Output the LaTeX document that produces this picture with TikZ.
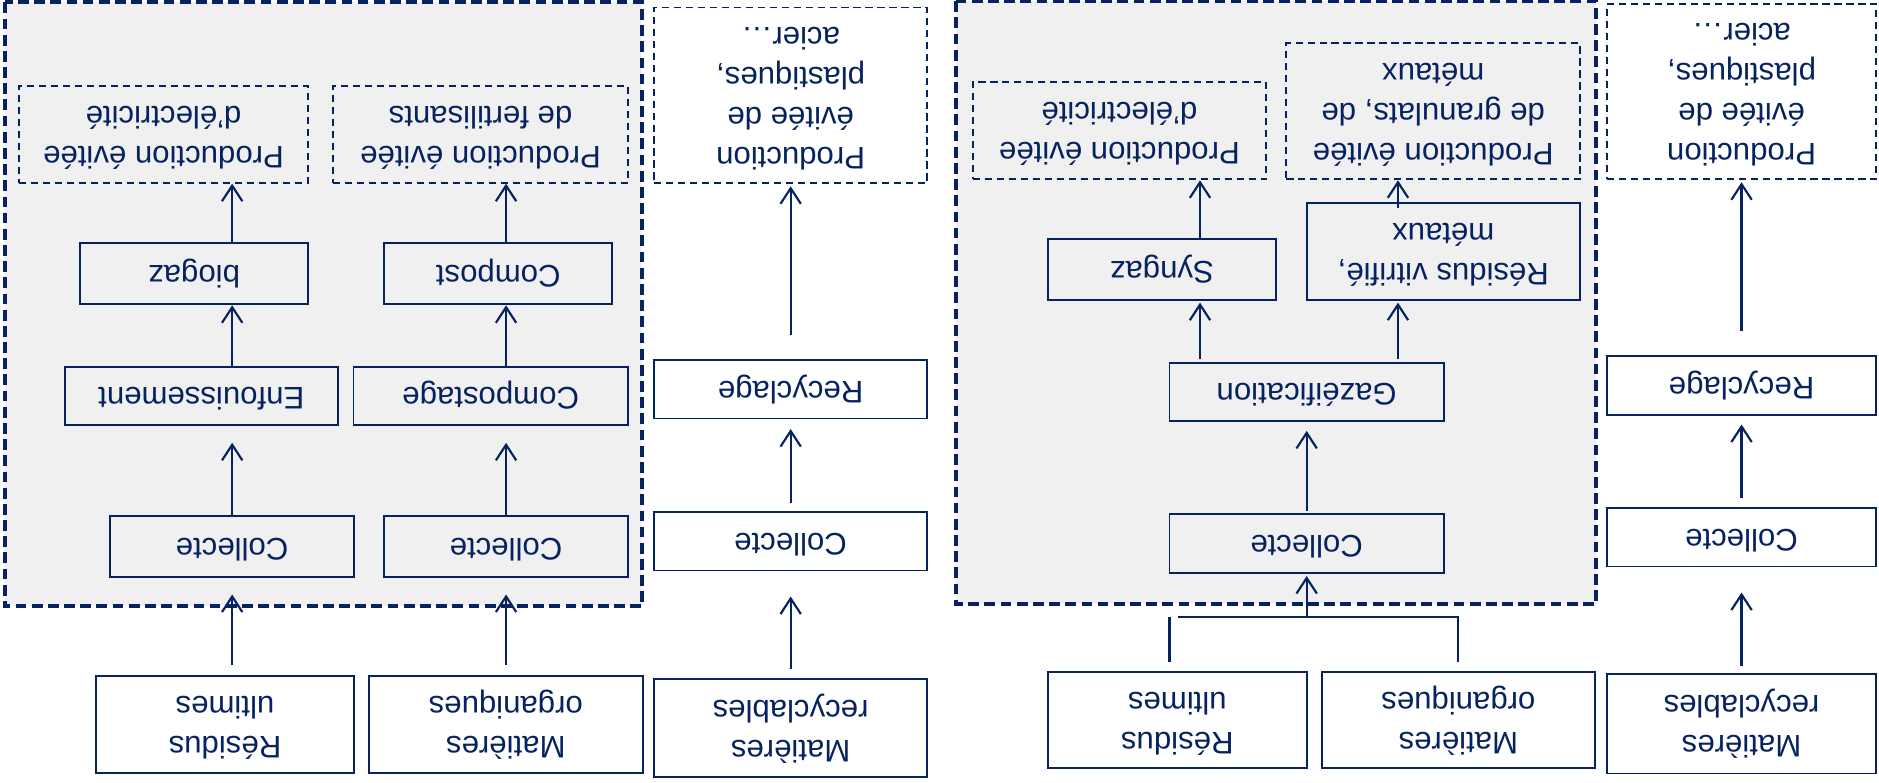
\documentclass[tikz,border=0pt]{standalone}
\usepackage{fontspec}
\setmainfont{Liberation Sans}
\usetikzlibrary{arrows.meta,calc}
\definecolor{navy}{RGB}{6,34,96}
\definecolor{panel}{RGB}{240,240,240}
% text of every box is printed turned half a turn
\newcommand{\flip}[1]{\rotatebox[origin=c]{180}{\begin{tabular}{@{}c@{}}#1\end{tabular}}}
\tikzset{
  box/.style={draw=navy, line width=1.5pt, inner sep=0pt, text=navy,
    font=\fontsize{26}{33.4}\selectfont},
  gain/.style={box, dash pattern=on 6pt off 4pt},
  panelbox/.style={fill=panel, draw=navy, line width=3.3pt, dash pattern=on 9pt off 4.5pt},
  arr/.style={draw=navy, line width=1.8pt,
    -{Straight Barb[length=13pt,width=17pt,line width=1.8pt]}},
  link/.style={draw=navy, line width=1.8pt},
}
\begin{document}
\begin{tikzpicture}[x=1pt,y=-1pt]
\useasboundingbox (0,0) rectangle (1568,653);

% shaded treatment areas
\draw[panelbox] (4,2) rectangle (536,506);
\draw[panelbox] (798,1) rectangle (1332,504);

% ---- left area: composting and landfill
\node[gain, minimum width=241pt, minimum height=80.5pt] (elecL) at (136.5,112.25) {\flip{Production évitée\\d’électricité}};
\node[gain, minimum width=246pt, minimum height=80.5pt] (fertL) at (401,112.25) {\flip{Production évitée\\de fertilisants}};
\node[box, minimum width=190pt, minimum height=51pt] (biogaz) at (162,228.5) {\flip{biogaz}};
\node[box, minimum width=190.4pt, minimum height=51pt] (compost) at (415.8,228.5) {\flip{Compost}};
\node[box, minimum width=228pt, minimum height=48.7pt] (enf) at (168,330.4) {\flip{Enfouissement}};
\node[box, minimum width=229pt, minimum height=48.7pt] (compostage) at (409.5,330.4) {\flip{Compostage}};
\node[box, minimum width=203.5pt, minimum height=50.7pt] (collL1) at (193.75,456) {\flip{Collecte}};
\node[box, minimum width=203.4pt, minimum height=50.7pt] (collL2) at (422.3,456) {\flip{Collecte}};
\node[box, minimum width=215.5pt, minimum height=81pt] (resL) at (187.75,604.5) {\flip{Résidus\\ultimes}};
\node[box, minimum width=228.8pt, minimum height=81pt] (matL) at (422.1,604.5) {\flip{Matières\\organiques}};

\draw[arr] ($(resL.north -| collL1.north)+(0,-8)$) -- ($(collL1.south)+(0,14)$);
\draw[arr] (collL1.north) -- ($(collL1.north |- enf.south)+(0,14)$);
\draw[arr] (enf.north -| collL1.north) -- (biogaz.south -| collL1.north);
\draw[arr] (biogaz.north -| collL1.north) -- (elecL.south -| collL1.north);

\draw[arr] ($(matL.north -| collL2.north)+(0,-8)$) -- ($(collL2.south)+(0,14)$);
\draw[arr] (collL2.north) -- ($(collL2.north |- compostage.south)+(0,14)$);
\draw[arr] (compostage.north -| collL2.north) -- (compost.south -| collL2.north);
\draw[arr] (compost.north -| collL2.north) -- (fertL.south -| collL2.north);

% ---- recycling chain (middle)
\node[gain, minimum width=228pt, minimum height=146.4pt] (prodR1) at (659.8,79.5) {\flip{Production\\évitée de\\plastiques,\\acier…}};
\node[box, minimum width=228pt, minimum height=49pt] (recyc1) at (659.8,324.8) {\flip{Recyclage}};
\node[box, minimum width=228pt, minimum height=48.5pt] (coll3) at (659.8,451.75) {\flip{Collecte}};
\node[box, minimum width=228pt, minimum height=81.6pt] (matR1) at (659.8,607.6) {\flip{Matières\\recyclables}};

\draw[arr] ($(matR1.north)+(0,-8)$) -- ($(coll3.south)+(0,21)$);
\draw[arr] ($(coll3.north)+(0,-7)$) -- ($(recyc1.south)+(0,8)$);
\draw[arr] ($(recyc1.north)+(0,-20)$) -- ($(prodR1.south)+(0,2)$);

% ---- right area: gasification
\node[gain, minimum width=244.5pt, minimum height=81.5pt] (elecR) at (934.15,108.95) {\flip{Production évitée\\d’électricité}};
\node[gain, minimum width=245.1pt, minimum height=113.5pt] (granR) at (1195.95,92.95) {\flip{Production évitée\\de granulats, de\\métaux}};
\node[box, minimum width=190.2pt, minimum height=50.7pt] (syngaz) at (969.6,225.05) {\flip{Syngaz}};
\node[box, minimum width=228.1pt, minimum height=80.7pt] (vitr) at (1204.45,210.05) {\flip{Résidus vitrifié,\\métaux}};
\node[box, minimum width=228.8pt, minimum height=48.6pt] (gaz) at (1090.4,327) {\flip{Gazéification}};
\node[box, minimum width=228.8pt, minimum height=48.9pt] (collR) at (1090.4,453.45) {\flip{Collecte}};
\node[box, minimum width=215.9pt, minimum height=80.7pt] (resR) at (982.45,600.85) {\flip{Résidus\\ultimes}};
\node[box, minimum width=228pt, minimum height=80.7pt] (matR) at (1217,600.85) {\flip{Matières\\organiques}};

\coordinate (jL) at (983,515.2);
\draw[link] ($(matR.north)+(0,-7.5)$) |- (jL);
\draw[link] ($(resR.north)+(-6.5,-7.5)$) -- ++(0,-37);
\draw[arr] (collR.south |- jL) -- ($(collR.south)+(0,2)$);
\draw[arr] ($(collR.north)+(0,-2)$) -- ($(gaz.south)+(0,7.5)$);
\coordinate (cS) at (1001.4,0);
\coordinate (cV) at (1166.6,0);
\draw[arr] ($(gaz.north -| cS)+(0,-2)$) -- ($(syngaz.south -| cS)+(0,1.4)$);
\draw[arr] ($(gaz.north -| cV)+(0,-2)$) -- ($(vitr.south -| cV)+(0,1.4)$);
\draw[arr] (syngaz.north -| cS) -- (elecR.south -| cS);
\draw[arr] ($(vitr.north -| cV)+(0,5)$) -- (granR.south -| cV);

% ---- recycling chain (right)
\node[gain, minimum width=225pt, minimum height=146pt] (prodR2) at (1453.3,76.3) {\flip{Production\\évitée de\\plastiques,\\acier…}};
\node[box, minimum width=225pt, minimum height=49pt] (recyc2) at (1453.3,321.5) {\flip{Recyclage}};
\node[box, minimum width=225pt, minimum height=49pt] (coll4) at (1453.3,448.2) {\flip{Collecte}};
\node[box, minimum width=225pt, minimum height=82.8pt] (matR2) at (1453.3,604) {\flip{Matières\\recyclables}};

\draw[arr] ($(matR2.north)+(0,-6)$) -- ($(coll4.south)+(0,21)$);
\draw[arr] ($(coll4.north)+(0,-7.5)$) -- ($(recyc2.south)+(0,7.5)$);
\draw[arr] ($(recyc2.north)+(0,-20)$) -- ($(prodR2.south)+(0,2)$);
\end{tikzpicture}
\end{document}
